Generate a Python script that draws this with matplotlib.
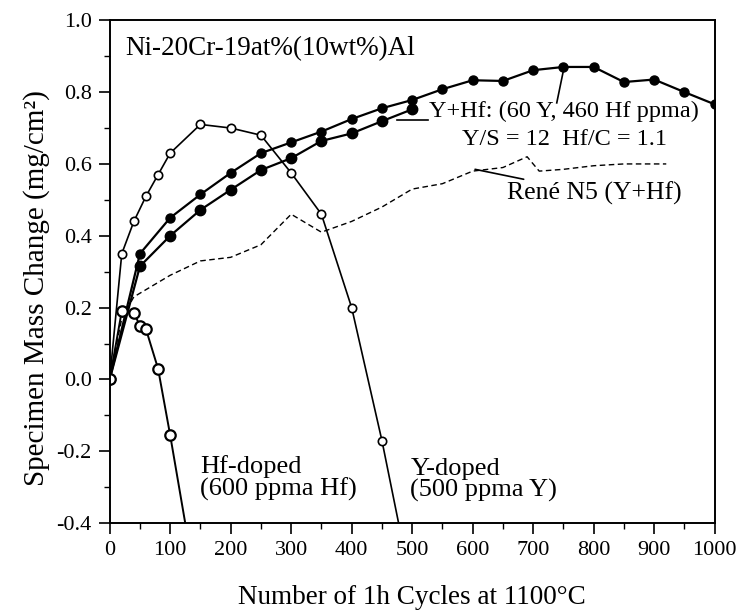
import matplotlib
matplotlib.use("Agg")
import matplotlib.pyplot as plt
from matplotlib.ticker import MultipleLocator, FormatStrFormatter

plt.rcParams['font.family'] = ['Liberation Serif', 'DejaVu Serif']

# Y-doped (500 ppma Y)
y_doped_x = [0, 20, 40, 60, 80, 100, 150, 200, 250, 300, 350, 400, 450, 480]
y_doped_y = [0, 0.35, 0.44, 0.51, 0.57, 0.63, 0.71, 0.70, 0.68, 0.575, 0.46, 0.20, -0.17, -0.42]

# Hf-doped (600 ppma Hf)
hf_doped_x = [0, 20, 40, 50, 60, 80, 100, 130]
hf_doped_y = [0, 0.19, 0.185, 0.15, 0.14, 0.03, -0.155, -0.45]

# Y+Hf, two specimens
yhf_a_x = [0, 50, 100, 150, 200, 250, 300, 350, 400, 450, 500, 550, 600, 650, 700, 750, 800, 850, 900, 950, 1000]
yhf_a_y = [0, 0.35, 0.45, 0.515, 0.575, 0.63, 0.66, 0.69, 0.725, 0.755, 0.778, 0.808, 0.833, 0.831, 0.861, 0.87, 0.87, 0.828, 0.835, 0.80, 0.766]
yhf_b_x = [0, 50, 100, 150, 200, 250, 300, 350, 400, 450, 500]
yhf_b_y = [0, 0.315, 0.40, 0.472, 0.528, 0.583, 0.616, 0.664, 0.685, 0.719, 0.752]

# Rene N5 (Y+Hf)
n5_x = [0, 20, 40, 100, 150, 200, 250, 300, 350, 400, 450, 500, 550, 600, 650, 690, 710, 750, 800, 850, 920]
n5_y = [0, 0.17, 0.23, 0.29, 0.33, 0.34, 0.375, 0.46, 0.41, 0.44, 0.48, 0.53, 0.545, 0.58, 0.59, 0.62, 0.58, 0.585, 0.595, 0.60, 0.60]

fig = plt.figure(figsize=(7.36, 6.14), dpi=100)
ax = fig.add_axes([0.149, 0.148, 0.822, 0.819])

ax.plot(n5_x, n5_y, color='black', lw=1.0, ls=(0, (4, 2.5)))
ax.plot(yhf_a_x, yhf_a_y, color='black', lw=1.6, marker='o', ms=6.5, mfc='black', mec='black')
ax.plot(yhf_b_x, yhf_b_y, color='black', lw=1.6, marker='o', ms=7.5, mfc='black', mec='black')
ax.plot(y_doped_x, y_doped_y, color='black', lw=1.2, marker='o', ms=6, mfc='white', mec='black', mew=1.2)
ax.plot(hf_doped_x, hf_doped_y, color='black', lw=1.4, marker='o', ms=7.5, mfc='white', mec='black', mew=1.6)

ax.set_xlim(0, 1000)
ax.set_ylim(-0.4, 1.0)
ax.xaxis.set_major_locator(MultipleLocator(100))
ax.xaxis.set_minor_locator(MultipleLocator(50))
ax.yaxis.set_major_locator(MultipleLocator(0.2))
ax.yaxis.set_minor_locator(MultipleLocator(0.1))
ax.yaxis.set_major_formatter(FormatStrFormatter('%.1f'))
ax.tick_params(which='both', direction='out', top=False, right=False, labelsize=16)
ax.tick_params(which='major', length=8, width=1.2, pad=5)
ax.tick_params(which='minor', length=4, width=1.0)
for s in ax.spines.values():
    s.set_linewidth(1.4)

ax.set_xlabel("Number of 1h Cycles at 1100°C", fontsize=19.5, labelpad=18)
ax.set_ylabel("Specimen Mass Change (mg/cm²)", fontsize=21)
ax.yaxis.set_label_coords(-0.098, 0.467)

ax.text(25, 0.92, "Ni-20Cr-19at%(10wt%)Al", fontsize=19.5, va='center', ha='left')

ax.text(528, 0.745, "Y+Hf: (60 Y, 460 Hf ppma)", fontsize=17.5, va='center', ha='left')
ax.plot([475, 527], [0.722, 0.722], color='black', lw=1.2)
ax.plot([739, 750], [0.77, 0.86], color='black', lw=1.2)
ax.text(752, 0.668, "Y/S = 12  Hf/C = 1.1", fontsize=17.5, va='center', ha='center')

ax.annotate("René N5 (Y+Hf)", xy=(604, 0.585), xytext=(657, 0.517),
            fontsize=18.5, va='center', ha='left',
            arrowprops=dict(arrowstyle='-', color='black', lw=1.2, shrinkA=0, shrinkB=0))

ax.text(149, -0.275, "Hf-doped\n(600 ppma Hf)", fontsize=19, va='center', ha='left', linespacing=0.95)
ax.text(497, -0.28, "Y-doped\n(500 ppma Y)", fontsize=19, va='center', ha='left', linespacing=0.95)

fig.savefig("out.png", dpi=100)
